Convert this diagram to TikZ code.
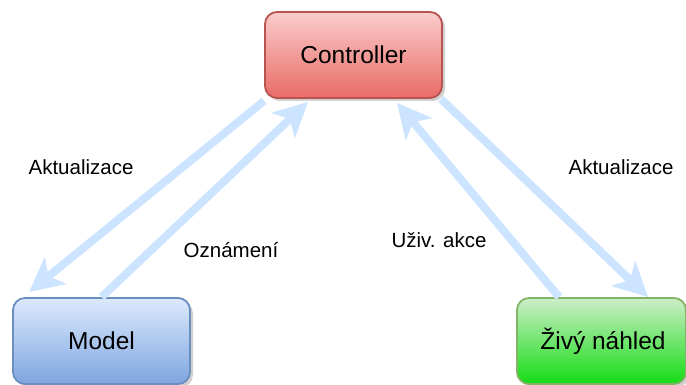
\documentclass[tikz,border=0pt]{standalone}
\usepackage{fontspec}
\setmainfont{Liberation Sans}
\usetikzlibrary{arrows.meta,shadows}

\definecolor{flowblue}{RGB}{204,228,255}
\definecolor{ctrltop}{RGB}{249,204,204}
\definecolor{ctrlbot}{RGB}{234,107,102}
\definecolor{ctrlline}{RGB}{184,84,80}
\definecolor{modeltop}{RGB}{220,233,252}
\definecolor{modelbot}{RGB}{126,166,224}
\definecolor{modelline}{RGB}{108,142,191}
\definecolor{viewtop}{RGB}{205,238,200}
\definecolor{viewbot}{RGB}{20,220,20}
\definecolor{viewline}{RGB}{130,179,102}

\tikzset{
  box/.style={rounded corners=12pt, line width=1.8pt, minimum width=177pt,
    minimum height=86pt, inner sep=0pt, font=\fontsize{24.5}{28}\selectfont,
    drop shadow={shadow xshift=3pt, shadow yshift=-3pt, opacity=0.3, fill=black!60}},
  flow/.style={draw=flowblue, line width=8pt,
    -{Stealth[length=34pt, width=34pt, inset=9pt, fill=flowblue]}},
  lbl/.style={font=\fontsize{20.5}{24}\selectfont, inner sep=0pt}
}

\begin{document}
\begin{tikzpicture}[x=1pt, y=-1pt]
  \useasboundingbox (0,0) rectangle (686,385);

  % the three components
  \node[box, draw=ctrlline, top color=ctrltop, bottom color=ctrlbot]
    (ctrl) at (353.5,55) {Controller};
  \node[box, draw=modelline, top color=modeltop, bottom color=modelbot]
    (model) at (101.5,341) {Model};
  \node[box, minimum width=169pt, draw=viewline, top color=viewtop, bottom color=viewbot]
    (view) at (601.5,341) {\hspace*{3pt}Živý náhled};

  % update and notification flows
  \draw[flow] ([shift={(0,2)}]ctrl.south west) -- ([shift={(17,-5)}]model.north west);
  \draw[flow] (model.north) -- ([shift={(-45.5,3)}]ctrl.south);
  \draw[flow] ([shift={(-2,0)}]ctrl.south east) -- ([shift={(132,0)}]view.north west);
  \draw[flow] ([shift={(43,0)}]view.north west) -- ([shift={(43.5,4)}]ctrl.south);

  % flow labels
  \node[lbl] (l1) at (81,167) {Aktualizace};
  \node[lbl] (l2) at (231,250) {Oznámení};
  \node[lbl] (l3) at (439,240) {Uživ. akce};
  \node[lbl] (l4) at (621,167) {Aktualizace};
\end{tikzpicture}
\end{document}
